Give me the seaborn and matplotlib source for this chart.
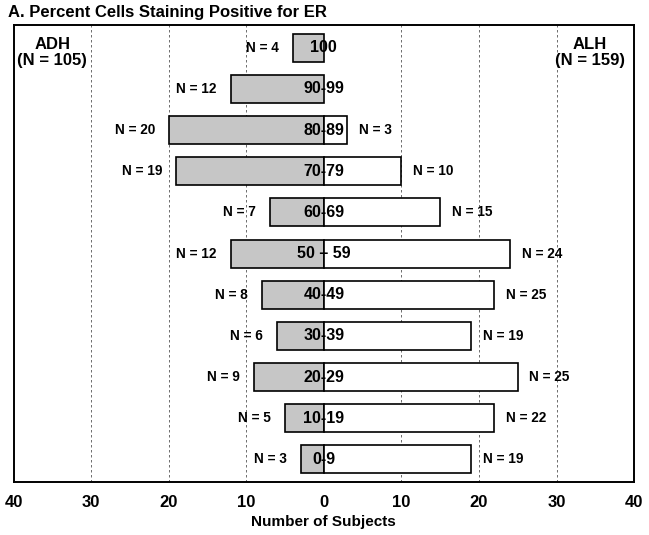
import matplotlib
matplotlib.use("Agg")
import matplotlib.pyplot as plt
from matplotlib import font_manager
import seaborn as sns
import numpy as np
import pandas as pd

# ER staining categories, top to bottom
groups = ["100", "90-99", "80-89", "70-79", "60-69", "50 \u2013 59",
          "40-49", "30-39", "20-29", "10-19", "0-9"]
# bar lengths as drawn
adh_counts = [4, 12, 20, 19, 7, 12, 8, 6, 9, 5, 3]
alh_counts = [0, 0, 3, 10, 15, 24, 22, 19, 25, 22, 19]
# N labels printed next to bars
adh_labels = ["N = 4", "N = 12", "N = 20", "N = 19", "N = 7", "N = 12",
              "N = 8", "N = 6", "N = 9", "N = 5", "N = 3"]
alh_labels = ["", "", "N = 3", "N = 10", "N = 15", "N = 24",
              "N = 25", "N = 19", "N = 25", "N = 22", "N = 19"]
ticks = [-40, -30, -20, -10, 0, 10, 20, 30, 40]

sns.set_theme(style="white")
plt.rcParams["font.family"] = ["Liberation Sans", "DejaVu Sans"]
plt.rcParams["font.weight"] = "bold"
plt.rcParams["text.color"] = "black"
plt.rcParams["xtick.color"] = "black"
plt.rcParams["axes.labelcolor"] = "black"

df_adh = pd.DataFrame({"group": groups, "count": [-v for v in adh_counts]})
df_alh = pd.DataFrame({"group": groups, "count": alh_counts})

fig = plt.figure(figsize=(6.49, 5.35), dpi=100)
ax = fig.add_axes([0.021, 0.099, 0.956, 0.854])

for x in [-30, -20, -10, 10, 20, 30]:
    ax.axvline(x, color="#555555", lw=0.6, ls=(0, (3, 3)), zorder=0)

sns.barplot(data=df_adh, x="count", y="group", orient="h", order=groups,
            color="#c6c6c6", saturation=1, edgecolor="black", linewidth=1.2,
            width=0.68, ax=ax, zorder=2)
sns.barplot(data=df_alh, x="count", y="group", orient="h", order=groups,
            color="white", saturation=1, edgecolor="black", linewidth=1.2,
            width=0.68, ax=ax, zorder=2)
# remove zero-length bars (no ALH subjects in top two rows)
for p in ax.patches:
    if p.get_width() == 0:
        p.set_visible(False)

for i, g in enumerate(groups):
    ax.text(0, i, g, ha="center", va="center", fontsize=11.5,
            fontweight="bold", zorder=4)
    ax.text(-adh_counts[i] - 1.8, i, adh_labels[i], ha="right", va="center",
            fontsize=9.8, fontweight="bold", zorder=4)
    if alh_labels[i]:
        ax.text(alh_counts[i] + 1.5, i, alh_labels[i], ha="left",
                va="center", fontsize=9.8, fontweight="bold", zorder=4)

ax.text(-35, 0.12, "ADH\n(N = 105)", ha="center", va="center", fontsize=12,
        fontweight="bold", linespacing=1.1)
ax.text(34.3, 0.12, "ALH\n(N = 159)", ha="center", va="center", fontsize=12,
        fontweight="bold", linespacing=1.1)

ax.set_xlim(-40, 40)
ax.set_ylim(10.55, -0.55)
ax.set_xticks(ticks)
ax.set_xticklabels([str(abs(t)) for t in ticks], fontsize=12,
                   fontweight="bold")
ax.tick_params(axis="x", length=0, pad=9)
ax.set_yticks([])
ax.set_ylabel("")
ax.set_xlabel("Number of Subjects", fontsize=11, fontweight="bold",
              labelpad=4)
for s in ax.spines.values():
    s.set_visible(True)
    s.set_color("black")
    s.set_linewidth(1.4)

fig.text(0.013, 0.977, "A. Percent Cells Staining Positive for ER",
         ha="left", va="center", fontsize=12, fontweight="bold")

fig.savefig("out.png", dpi=100)
